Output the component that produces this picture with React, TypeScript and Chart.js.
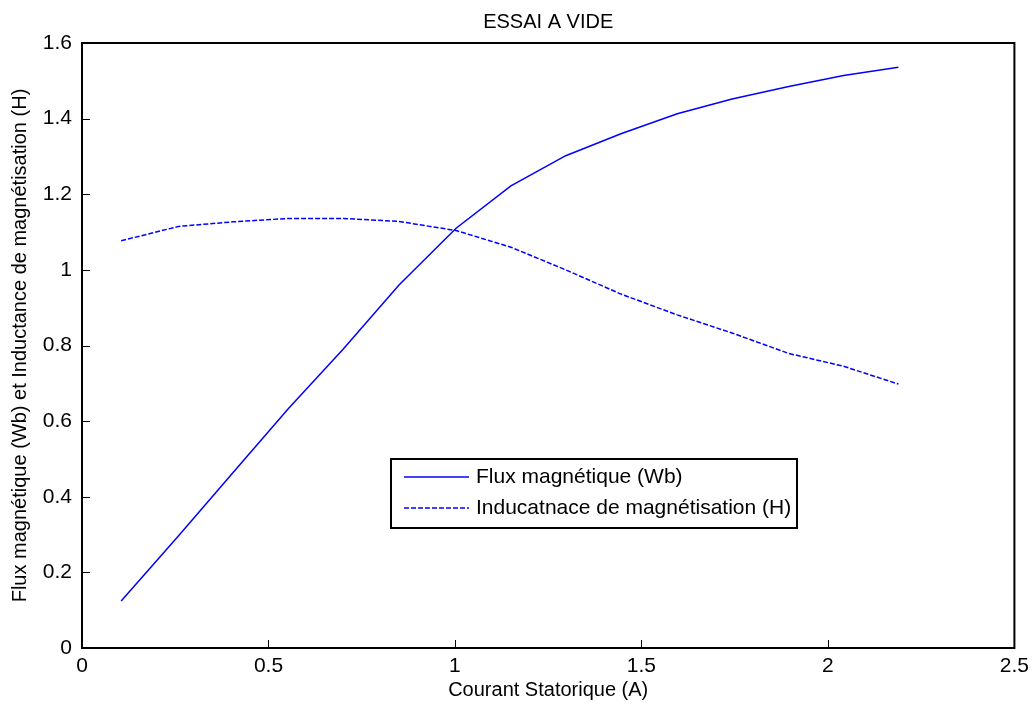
import React, { useEffect, useRef } from "react";
import { Chart, registerables } from "chart.js";

Chart.register(...registerables);

// Data
const currentA = [0.105, 0.259, 0.404, 0.553, 0.70, 0.85, 1.003, 1.150, 1.297, 1.445, 1.596, 1.743, 1.895, 2.042, 2.189];
const fluxWb = [0.124, 0.297, 0.463, 0.633, 0.79, 0.96, 1.11, 1.222, 1.302, 1.360, 1.413, 1.452, 1.485, 1.514, 1.536];
const inductanceH = [1.077, 1.115, 1.127, 1.136, 1.136, 1.128, 1.104, 1.060, 1.000, 0.936, 0.881, 0.833, 0.779, 0.745, 0.698];

const xTicks = [0, 0.5, 1, 1.5, 2, 2.5];
const yTicks = [0, 0.2, 0.4, 0.6, 0.8, 1, 1.2, 1.4, 1.6];

const chartTitle = "ESSAI A VIDE";
const xTitle = "Courant Statorique (A)";
const yTitle = "Flux magnétique (Wb) et Inductance de magnétisation (H)";
const seriesLabels = ["Flux magnétique (Wb)", "Inducatnace de magnétisation (H)"];

const FONT = '"Liberation Sans", Arial, Helvetica, sans-serif';

const boxPlugin = {
  id: "matlabBox",
  afterDraw(chart: any) {
    const ctx = chart.ctx;
    const { left, right, top, bottom } = chart.chartArea;
    ctx.save();
    ctx.strokeStyle = "#000";
    ctx.lineWidth = 1;
    ctx.beginPath();
    chart.scales.x.ticks.forEach((t: any) => {
      const px = Math.round(chart.scales.x.getPixelForValue(t.value)) + 0.5;
      ctx.moveTo(px, bottom);
      ctx.lineTo(px, bottom - 8);
    });
    chart.scales.y.ticks.forEach((t: any) => {
      const py = Math.round(chart.scales.y.getPixelForValue(t.value)) + 0.5;
      ctx.moveTo(left, py);
      ctx.lineTo(left + 8, py);
    });
    ctx.stroke();
    ctx.lineWidth = 2;
    ctx.strokeRect(left, top, right - left, bottom - top);
    ctx.fillStyle = "#000";
    ctx.font = `20px ${FONT}`;
    ctx.textAlign = "center";
    ctx.textBaseline = "middle";
    ctx.fillText(chartTitle, (left + right) / 2, 22);
    ctx.restore();
  },
};

const legendPlugin = {
  id: "matlabLegend",
  afterDatasetsDraw(chart: any) {
    const ctx = chart.ctx;
    const bx = 391, by = 459, bw = 406, bh = 69;
    ctx.save();
    ctx.fillStyle = "#fff";
    ctx.fillRect(bx, by, bw, bh);
    ctx.strokeStyle = "#000";
    ctx.lineWidth = 2;
    ctx.strokeRect(bx, by, bw, bh);
    chart.data.datasets.forEach((ds: any, i: number) => {
      const y = by + 18 + i * 31;
      ctx.beginPath();
      ctx.setLineDash(ds.borderDash || []);
      ctx.strokeStyle = ds.borderColor;
      ctx.lineWidth = ds.borderWidth;
      ctx.moveTo(404, y);
      ctx.lineTo(469, y);
      ctx.stroke();
      ctx.setLineDash([]);
      ctx.fillStyle = "#000";
      ctx.font = `21px ${FONT}`;
      ctx.textAlign = "left";
      ctx.textBaseline = "middle";
      ctx.fillText(ds.label, 476, y);
    });
    ctx.restore();
  },
};

export default function App() {
  const ref = useRef<HTMLCanvasElement | null>(null);

  useEffect(() => {
    if (!ref.current) return;
    const chart = new Chart(ref.current, {
      type: "line",
      data: {
        datasets: [
          {
            label: seriesLabels[0],
            data: currentA.map((x, i) => ({ x, y: fluxWb[i] })),
            borderColor: "#0000ff",
            borderWidth: 1.5,
            pointRadius: 0,
            tension: 0,
            fill: false,
          },
          {
            label: seriesLabels[1],
            data: currentA.map((x, i) => ({ x, y: inductanceH[i] })),
            borderColor: "#0000ff",
            borderWidth: 1.5,
            borderDash: [5, 2],
            pointRadius: 0,
            tension: 0,
            fill: false,
          },
        ],
      },
      options: {
        responsive: false,
        animation: false,
        devicePixelRatio: 1,
        layout: { padding: { left: 0, right: 19, top: 43, bottom: 0 } },
        plugins: {
          legend: { display: false },
          title: { display: false },
          tooltip: { enabled: false },
        },
        scales: {
          x: {
            type: "linear",
            min: 0,
            max: 2.5,
            grid: { display: false, tickLength: 0 },
            border: { display: false },
            afterBuildTicks: (scale: any) => {
              scale.ticks = xTicks.map((v) => ({ value: v }));
            },
            afterFit: (scale: any) => {
              scale.height = 59;
            },
            ticks: {
              color: "#000",
              font: { family: FONT, size: 21 },
              padding: 6,
              maxRotation: 0,
              callback: (v: any) => String(v),
            },
            title: {
              display: true,
              text: xTitle,
              color: "#000",
              font: { family: FONT, size: 20 },
              padding: { top: 0, bottom: 5 },
            },
          },
          y: {
            type: "linear",
            min: 0,
            max: 1.6,
            grid: { display: false, tickLength: 0 },
            border: { display: false },
            afterBuildTicks: (scale: any) => {
              scale.ticks = yTicks.map((v) => ({ value: v }));
            },
            afterFit: (scale: any) => {
              scale.width = 82;
            },
            ticks: {
              color: "#000",
              font: { family: FONT, size: 21 },
              padding: 10,
              callback: (v: any) => String(Math.round(v * 10) / 10),
            },
            title: {
              display: true,
              text: yTitle,
              color: "#000",
              font: { family: FONT, size: 20 },
              padding: { top: 8, bottom: 0 },
            },
          },
        },
      },
      plugins: [legendPlugin, boxPlugin],
    } as any);
    return () => chart.destroy();
  }, []);

  return (
    <div style={{ position: "fixed", left: 0, top: 0, width: 1035, height: 707, background: "#fff" }}>
      <canvas ref={ref} width={1035} height={707} style={{ display: "block" }} />
    </div>
  );
}
